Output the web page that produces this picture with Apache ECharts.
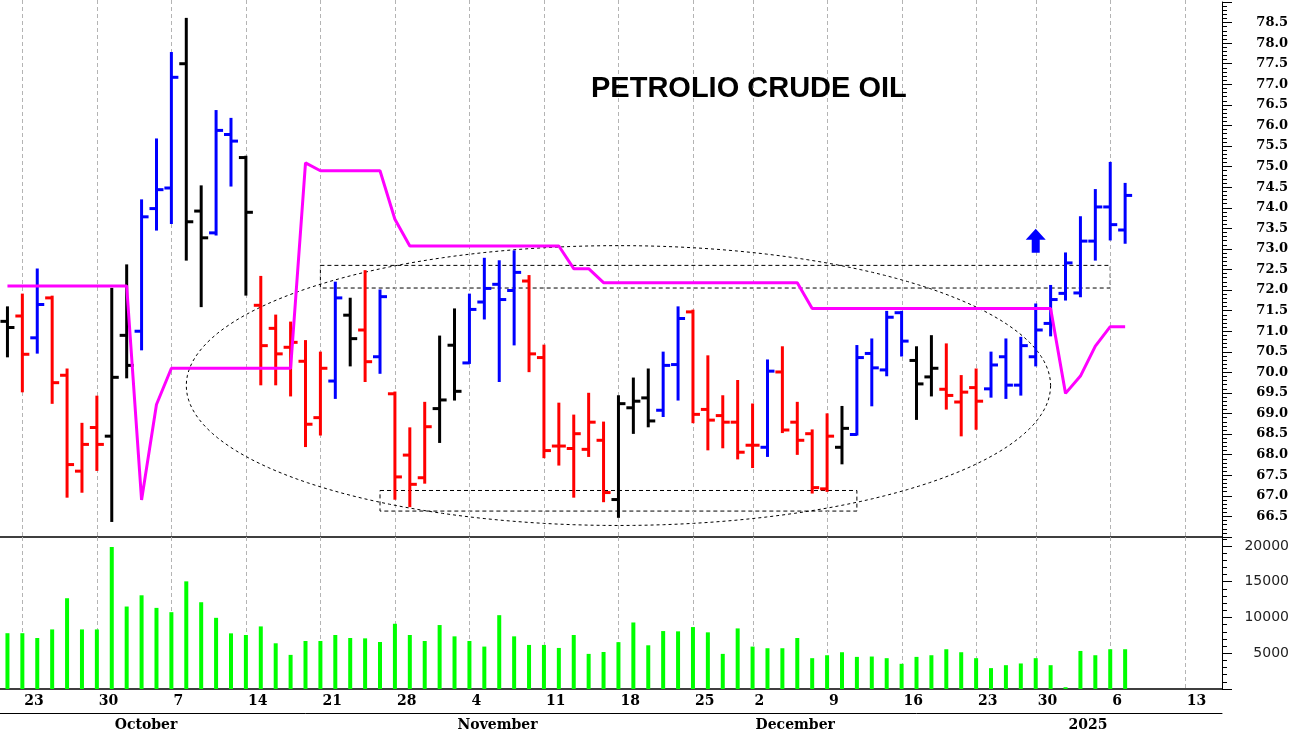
<!DOCTYPE html>
<html>
<head>
<meta charset="utf-8">
<title>Petrolio Crude Oil</title>
<script src="https://cdn.jsdelivr.net/npm/echarts@6/dist/echarts.min.js"></script>
<style>
    html, body { margin: 0; padding: 0; background: #fff; }
    #main { width: 1294px; height: 736px; }
</style>
</head>
<body>
<div id="main"></div>
<script>
/* sedute (giorni di borsa), inclusi gli slot vuoti a destra */
var dates = [
    '2024-09-20',
    '2024-09-23', '2024-09-24', '2024-09-25', '2024-09-26', '2024-09-27',
    '2024-09-30', '2024-10-01', '2024-10-02', '2024-10-03', '2024-10-04',
    '2024-10-07', '2024-10-08', '2024-10-09', '2024-10-10', '2024-10-11',
    '2024-10-14', '2024-10-15', '2024-10-16', '2024-10-17', '2024-10-18',
    '2024-10-21', '2024-10-22', '2024-10-23', '2024-10-24', '2024-10-25',
    '2024-10-28', '2024-10-29', '2024-10-30', '2024-10-31', '2024-11-01',
    '2024-11-04', '2024-11-05', '2024-11-06', '2024-11-07', '2024-11-08',
    '2024-11-11', '2024-11-12', '2024-11-13', '2024-11-14', '2024-11-15',
    '2024-11-18', '2024-11-19', '2024-11-20', '2024-11-21', '2024-11-22',
    '2024-11-25', '2024-11-26', '2024-11-27', '2024-11-29',
    '2024-12-02', '2024-12-03', '2024-12-04', '2024-12-05', '2024-12-06',
    '2024-12-09', '2024-12-10', '2024-12-11', '2024-12-12', '2024-12-13',
    '2024-12-16', '2024-12-17', '2024-12-18', '2024-12-19', '2024-12-20',
    '2024-12-23', '2024-12-24', '2024-12-26', '2024-12-27',
    '2024-12-30', '2024-12-31', '2025-01-01', '2025-01-02', '2025-01-03',
    '2025-01-06', '2025-01-07', '2025-01-08', '2025-01-09', '2025-01-10',
    '2025-01-13', '2025-01-14', '2025-01-15'
];

/* OHLC */
var opens  = [71.24, 71.37, 70.84, 71.81, 69.93, 67.60, 68.66, 68.45, 70.90, 71.00,
              73.98, 74.48, 77.50, 73.92, 73.39, 75.78, 75.22, 71.63, 71.07, 70.61,
              70.27, 68.90, 69.79, 71.39, 71.03, 70.38, 69.48, 67.99, 67.44, 69.12,
              70.66, 70.23, 71.71, 72.14, 71.99, 72.22, 70.36, 68.21, 68.15, 68.13,
              68.35, 66.91, 69.14, 69.38, 69.08, 70.19, 71.47, 69.10, 68.95, 68.79,
              68.23, 68.18, 70.01, 68.79, 68.51, 67.17, 68.18, 68.49, 70.46, 70.06,
              71.45, 70.29, 69.89, 69.59, 69.28, 69.63, 69.60, 70.38, 69.69, 70.38,
              71.19, 71.92, 71.93, 73.19, 74.02, 73.46];
var highs  = [71.58, 71.89, 72.50, 71.84, 70.07, 68.75, 69.41, 72.03, 72.60, 74.18,
              75.66, 77.76, 78.59, 74.52, 76.35, 76.16, 75.24, 72.32, 71.38, 71.21,
              70.76, 70.48, 72.18, 71.79, 72.46, 71.99, 69.51, 68.64, 69.26, 70.87,
              71.53, 71.89, 72.76, 72.70, 72.94, 72.34, 70.65, 69.24, 68.95, 69.48,
              68.78, 69.42, 69.85, 70.07, 70.48, 71.58, 71.50, 70.39, 69.42, 69.79,
              69.22, 70.29, 70.61, 69.26, 68.59, 68.98, 69.16, 70.64, 70.80, 71.47,
              71.47, 70.61, 70.88, 70.68, 69.91, 70.07, 70.48, 70.80, 70.84, 71.65,
              72.10, 72.89, 73.77, 74.43, 75.09, 74.58];
var lows   = [70.39, 69.54, 70.48, 69.26, 66.98, 67.10, 67.63, 66.39, 69.88, 70.56,
              73.47, 73.63, 72.74, 71.61, 73.35, 74.54, 71.89, 69.71, 69.71, 69.44,
              68.21, 68.49, 69.38, 70.17, 69.79, 69.99, 66.93, 66.75, 67.32, 68.31,
              69.34, 70.23, 71.31, 69.79, 70.68, 70.03, 67.94, 67.76, 66.98, 67.97,
              66.87, 66.49, 68.53, 68.69, 68.94, 69.34, 68.79, 68.13, 68.18, 67.91,
              67.70, 67.97, 68.55, 68.02, 67.08, 67.12, 67.79, 68.49, 69.20, 69.93,
              70.41, 68.87, 69.44, 69.12, 68.47, 68.63, 69.41, 69.38, 69.46, 70.17,
              70.90, 71.77, 71.85, 72.74, 73.23, 73.15];
var closes = [71.09, 70.44, 71.65, 69.75, 67.76, 68.25, 68.25, 69.88, 70.17, 73.78,
              74.44, 77.17, 73.66, 73.27, 75.88, 75.62, 73.89, 70.65, 70.45, 70.73,
              68.74, 70.10, 71.81, 70.82, 70.26, 71.84, 67.46, 67.28, 68.68, 69.33,
              69.54, 71.53, 72.04, 71.77, 72.43, 70.45, 68.10, 68.21, 68.51, 68.79,
              67.08, 69.24, 69.30, 68.82, 70.17, 71.31, 68.98, 68.84, 68.79, 68.06,
              68.23, 70.03, 68.60, 68.35, 67.20, 68.45, 68.64, 70.36, 70.11, 71.34,
              70.76, 69.72, 70.10, 69.44, 69.52, 69.30, 70.18, 69.69, 70.65, 71.03,
              71.77, 72.66, 73.19, 74.02, 73.59, 74.30];
/* colore della barra: k nero, r rosso, b blu */
var barColorCodes = 'krbrrrrkkbbbkkbbkrrrrrbkrbrrrkkbbbbrrrrrrkkkbbrrrrrbrrrrkbbbbkkrrrbbbbbbbbbbb';

/* linea fucsia (stop) */
var stopLine = [72.1, 72.1, 72.1, 72.1, 72.1, 72.1, 72.1, 72.1, 72.1, 66.9,
                69.22, 70.1, 70.1, 70.1, 70.1, 70.1, 70.1, 70.1, 70.1, 70.1,
                75.09, 74.9, 74.9, 74.9, 74.9, 74.9, 73.72, 73.07, 73.07, 73.07,
                73.07, 73.07, 73.07, 73.07, 73.07, 73.07, 73.07, 73.07, 72.52, 72.52,
                72.18, 72.18, 72.18, 72.18, 72.18, 72.18, 72.18, 72.18, 72.18, 72.18,
                72.18, 72.18, 72.18, 72.18, 71.55, 71.55, 71.55, 71.55, 71.55, 71.55,
                71.55, 71.55, 71.55, 71.55, 71.55, 71.55, 71.55, 71.55, 71.55, 71.55,
                71.55, 69.49, 69.91, 70.64, 71.11, 71.11];

/* volumi */
var volumes = [7800, 7800, 7130, 8330, 12690, 8330, 8330, 19860, 11530, 13100,
               11340, 10740, 15050, 12130, 9950, 7780, 7550, 8750, 6390, 4770,
               6710, 6710, 7550, 7130, 7080, 6570, 9120, 7550, 6710, 8940,
               7360, 6710, 5930, 10320, 7360, 6160, 6160, 5740, 7550, 4910,
               5170, 6550, 9300, 6110, 8100, 8060, 8660, 7920, 4910, 8470,
               5930, 5700, 5700, 7130, 4310, 4720, 5140, 4490, 4540, 4310,
               3520, 4490, 4720, 5560, 5140, 4310, 2920, 3330, 3570, 4310,
               3330, 250, 5320, 4720, 5560, 5560];

var monthLabels = { '10': 'October', '11': 'November', '12': 'December', '01': '2025' };

/* rettangoli tratteggiati e freccia (coordinate dati) */
var upperBox = [[21, 72.6], [74, 72.05]];
var lowerBox = [[25, 67.13], [57, 66.63]];
var arrowAt = [69, 73.2];
var ovalCenter = [41, 69.68];   // centro ellisse
var ovalHalfSlots = 29;         // semiasse orizzontale in sedute
var ovalHalfPrice = 3.4;        // semiasse verticale in prezzo

var colorMap = { k: '#000000', r: '#ff0000', b: '#0000ff' };

function isMonday(d) {
    return new Date(d + 'T00:00:00Z').getUTCDay() === 1;
}
function isMonthStart(i) {
    return i > 0 && dates[i].slice(5, 7) !== dates[i - 1].slice(5, 7);
}

var ohlcData = [];
for (var i = 0; i < opens.length; i++) {
    ohlcData.push([i, opens[i], highs[i], lows[i], closes[i]]);
}
var weekIdx = [];
dates.forEach(function (d, j) {
    if (isMonday(d)) weekIdx.push([j]);
});

function renderOhlc(params, api) {
    var idx = api.value(0);
    var o = api.coord([idx, api.value(1)]);
    var h = api.coord([idx, api.value(2)]);
    var l = api.coord([idx, api.value(3)]);
    var c = api.coord([idx, api.value(4)]);
    var col = colorMap[barColorCodes.charAt(params.dataIndex)];
    var st = { stroke: col, lineWidth: 3 };
    return {
        type: 'group',
        children: [
            { type: 'line', shape: { x1: h[0], y1: h[1] - 1, x2: l[0], y2: l[1] + 1 }, style: st },
            { type: 'line', shape: { x1: o[0] - 7, y1: o[1], x2: o[0], y2: o[1] }, style: st },
            { type: 'line', shape: { x1: c[0], y1: c[1], x2: c[0] + 7, y2: c[1] }, style: st }
        ]
    };
}

// linee verticali tratteggiate del lunedì, dietro alle barre
function makeWeekLine(fromTop) {
    return function (params, api) {
        var x = Math.round(api.coord([api.value(0), 0])[0]) + 0.5;
        var cs = params.coordSys;
        return {
            type: 'line',
            shape: { x1: x, y1: fromTop ? 0 : cs.y, x2: x, y2: cs.y + cs.height },
            style: { stroke: '#b4b4b4', lineWidth: 1, lineDash: [4, 3] }
        };
    };
}

var serifLabel = { fontFamily: 'DejaVu Serif', fontWeight: 'bold', color: '#000' };
var boxStyle = { color: 'rgba(0,0,0,0)', borderColor: '#000', borderWidth: 1, borderType: [4, 3] };

var chartDom = document.getElementById('main');
var chart = echarts.init(chartDom);
var option = {
    animation: false,
    backgroundColor: '#fff',
    title: {
        text: 'PETROLIO CRUDE OIL',
        left: 591,
        top: 74,
        padding: 0,
        textStyle: { fontFamily: 'Liberation Sans', fontWeight: 'bold', fontSize: 29, color: '#000' }
    },
    grid: [
        { left: 0, right: 72, top: 2, height: 535 },
        { left: 0, right: 72, top: 537, height: 152 }
    ],
    xAxis: [
        {
            type: 'category', gridIndex: 0, data: dates, boundaryGap: true,
            axisLine: { lineStyle: { color: '#000', width: 1.5 } },
            axisTick: { show: false }, axisLabel: { show: false }, splitLine: { show: false }
        },
        {
            type: 'category', gridIndex: 1, data: dates, boundaryGap: true,
            axisLine: { lineStyle: { color: '#000', width: 1.5 } },
            axisTick: {
                alignWithLabel: true, length: 24,
                interval: function (i, v) { return isMonday(v) || isMonthStart(i); },
                lineStyle: { color: '#000', width: 1 }
            },
            axisLabel: Object.assign({
                interval: function (i, v) { return isMonday(v); },
                formatter: function (v) { return String(parseInt(v.slice(8), 10)); },
                align: 'left', padding: [0, 0, 0, 2], margin: 5, fontSize: 14
            }, serifLabel),
            splitLine: { show: false }
        },
        {
            type: 'category', gridIndex: 1, data: dates, boundaryGap: true, position: 'bottom', offset: 24,
            axisLine: { lineStyle: { color: '#000', width: 1 } },
            axisTick: {
                alignWithLabel: true, length: 23,
                interval: function (i) { return isMonthStart(i); },
                lineStyle: { color: '#000', width: 1 }
            },
            axisLabel: Object.assign({
                interval: function (i) { return isMonthStart(i); },
                formatter: function (v) { return monthLabels[v.slice(5, 7)]; },
                align: 'left', padding: [0, 0, 0, 3], margin: 5, fontSize: 14
            }, serifLabel),
            splitLine: { show: false }
        }
    ],
    yAxis: [
        {
            type: 'value', gridIndex: 0, position: 'right', min: 66, max: 79, interval: 0.5,
            axisLine: { show: true, lineStyle: { color: '#000', width: 1 } },
            axisTick: { show: true, length: 10, lineStyle: { color: '#000' } },
            minorTick: { show: true, splitNumber: 5, length: 5, lineStyle: { color: '#000' } },
            splitLine: { show: false },
            axisLabel: Object.assign({
                align: 'right', margin: 66, fontSize: 13,
                formatter: function (v) { return (v > 66.01 && v < 78.99) ? v.toFixed(1) : ''; }
            }, serifLabel)
        },
        {
            type: 'value', gridIndex: 1, position: 'right', min: 0, max: 21250, interval: 5000,
            axisLine: { show: true, lineStyle: { color: '#000', width: 1 } },
            axisTick: { show: true, length: 10, lineStyle: { color: '#000' } },
            minorTick: { show: true, splitNumber: 5, length: 5, lineStyle: { color: '#000' } },
            splitLine: { show: false },
            axisLabel: {
                align: 'right', margin: 67, fontSize: 14, fontFamily: 'DejaVu Sans', color: '#222',
                formatter: function (v) { return (v > 0 && v <= 20000 && v % 5000 === 0) ? String(v) : ''; }
            }
        }
    ],
    series: [
        {
            type: 'custom', xAxisIndex: 0, yAxisIndex: 0, z: 1, silent: true, clip: false,
            renderItem: makeWeekLine(true), data: weekIdx, encode: { x: 0 }
        },
        {
            type: 'custom', xAxisIndex: 1, yAxisIndex: 1, z: 1, silent: true, clip: false,
            renderItem: makeWeekLine(false), data: weekIdx, encode: { x: 0 }
        },
        {
            name: 'OHLC', type: 'custom', xAxisIndex: 0, yAxisIndex: 0, z: 3,
            renderItem: renderOhlc, data: ohlcData, encode: { x: 0, y: [1, 2, 3, 4] }, clip: true
        },
        {
            name: 'Stop', type: 'line', xAxisIndex: 0, yAxisIndex: 0, z: 4,
            data: stopLine, showSymbol: false, symbol: 'none',
            lineStyle: { color: '#ff00ff', width: 3 },
            markArea: {
                silent: true,
                itemStyle: boxStyle,
                data: [
                    [{ xAxis: dates[upperBox[0][0]], yAxis: upperBox[0][1] }, { xAxis: dates[upperBox[1][0]], yAxis: upperBox[1][1] }],
                    [{ xAxis: dates[lowerBox[0][0]], yAxis: lowerBox[0][1] }, { xAxis: dates[lowerBox[1][0]], yAxis: lowerBox[1][1] }]
                ]
            },
            markPoint: {
                silent: true,
                symbol: 'path://M10,0 L20,11 L14,11 L14,24 L6,24 L6,11 L0,11 Z',
                symbolSize: [20, 24],
                itemStyle: { color: '#0000ff' },
                label: { show: false },
                data: [{ coord: [dates[arrowAt[0]], arrowAt[1]] }]
            }
        },
        {
            name: 'Volume', type: 'bar', xAxisIndex: 1, yAxisIndex: 1, z: 3,
            data: volumes, barWidth: 4,
            itemStyle: { color: '#00ff00' }
        }
    ]
};
chart.setOption(option);

/* ellisse tratteggiata disegnata in pixel a partire dalle coordinate dati */
var ctr = chart.convertToPixel({ gridIndex: 0 }, [dates[ovalCenter[0]], ovalCenter[1]]);
var edge = chart.convertToPixel({ gridIndex: 0 }, [dates[ovalCenter[0] + ovalHalfSlots], ovalCenter[1] + ovalHalfPrice]);
var rx = edge[0] - ctr[0];
var ry = ctr[1] - edge[1];
var pts = [];
for (var k = 0; k < 180; k++) {
    var a = k / 180 * Math.PI * 2;
    pts.push([ctr[0] + rx * Math.cos(a), ctr[1] + ry * Math.sin(a)]);
}
chart.setOption({
    graphic: [{
        type: 'polygon', silent: true, z: 2,
        shape: { points: pts },
        style: { fill: 'none', stroke: '#000', lineWidth: 1, lineDash: [3, 3] }
    }]
});
</script>
</body>
</html>
